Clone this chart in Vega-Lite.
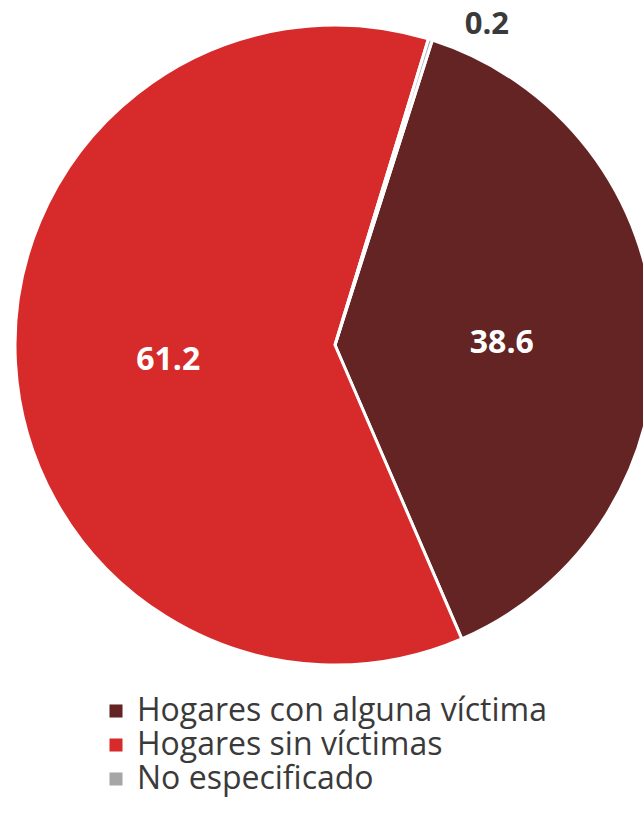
{
  "$schema": "https://vega.github.io/schema/vega-lite/v6.json",
  "width": 670,
  "height": 690,
  "autosize": "none",
  "padding": {"left": 0, "top": 0, "right": 0, "bottom": 132},
  "background": "white",
  "data": {"values": [
    {"cat": "Hogares con alguna víctima", "value": 38.6, "ord": 1},
    {"cat": "Hogares sin víctimas", "value": 61.2, "ord": 2},
    {"cat": "No especificado", "value": 0.2, "ord": 3}
  ]},
  "encoding": {
    "theta": {"field": "value", "type": "quantitative", "stack": true, "scale": {"range": [0.309, 6.592]}},
    "order": {"field": "ord", "type": "quantitative"}
  },
  "layer": [
    {
      "mark": {"type": "arc", "outerRadius": 320, "stroke": "white", "strokeWidth": 3},
      "encoding": {
        "color": {
          "field": "cat", "type": "nominal",
          "scale": {"domain": ["Hogares con alguna víctima", "Hogares sin víctimas", "No especificado"], "range": ["#632423", "#D72B2B", "#A6A6A6"]},
          "legend": {
            "title": null, "orient": "none", "legendX": 100, "legendY": 695,
            "symbolType": "square", "symbolSize": 170, "symbolStrokeWidth": 0,
            "labelFontSize": 32, "labelFont": "Open Sans", "labelColor": "#3a3a3a",
            "labelLimit": 600, "rowPadding": 2, "labelOffset": 5
          }
        }
      }
    },
    {
      "mark": {"type": "text", "radius": 167, "dy": 6, "fontSize": 32, "font": "Open Sans", "fontWeight": "bold", "fill": "white"},
      "encoding": {
        "text": {"condition": {"test": "datum.value < 1", "value": ""}, "field": "value", "type": "quantitative", "format": ".1f"}
      }
    },
    {
      "mark": {"type": "text", "radius": 335, "dx": 52, "fontSize": 31, "font": "Open Sans", "fontWeight": "bold", "fill": "#3a3a3a"},
      "encoding": {
        "text": {"condition": {"test": "datum.value >= 1", "value": ""}, "field": "value", "type": "quantitative", "format": ".1f"}
      }
    }
  ]
}
